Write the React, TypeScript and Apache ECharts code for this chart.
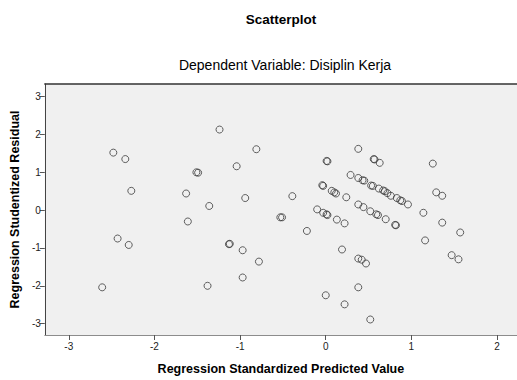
import React, { useEffect, useRef } from "react";
import * as echarts from "echarts";

const predictedValues: number[] = [
  -2.48, -2.34, -2.27, -2.43, -2.3, -2.61, -1.24, -0.81, -1.04, -1.51, -1.49, -1.63, -1.36, -0.94,
  -0.39, 0.01, 0.02, -0.04, -0.03, 0.07, 0.1, 0.12, 0.24, 0.29, -0.1, -0.03, 0.01, 0.02, -0.53,
  -0.51, -1.61, 0.13, 0.22, -0.22, -1.13, -1.12, -0.97, -0.78, 0.19, -0.97, -1.38, 0.0, 0.22,
  0.38, 0.56, 0.57, 0.63, 1.25, 0.38, 0.43, 0.45, 0.53, 0.55, 0.62, 0.67, 0.69, 0.72, 0.76, 0.83,
  0.87, 0.89, 0.96, 1.29, 1.36, 1.14, 0.38, 0.44, 0.52, 0.59, 0.61, 0.7, 0.81, 0.82, 1.36, 1.57,
  1.16, 1.47, 1.55, 0.38, 0.42, 0.47, 0.38, 0.52,
];
const studentizedResiduals: number[] = [
  1.52, 1.35, 0.51, -0.75, -0.92, -2.04, 2.13, 1.61, 1.16, 1.0, 0.99, 0.44, 0.11, 0.32,
  0.37, 1.3, 1.29, 0.66, 0.64, 0.51, 0.47, 0.44, 0.34, 0.93, 0.02, -0.07, -0.11, -0.13, -0.19,
  -0.19, -0.3, -0.25, -0.35, -0.55, -0.9, -0.89, -1.06, -1.36, -1.04, -1.78, -2.0, -2.25, -2.49,
  1.62, 1.35, 1.34, 1.25, 1.23, 0.85, 0.79, 0.78, 0.65, 0.64, 0.57, 0.52, 0.5, 0.45, 0.38, 0.32,
  0.26, 0.24, 0.15, 0.47, 0.38, -0.07, 0.15, 0.08, -0.03, -0.11, -0.13, -0.24, -0.39, -0.4, -0.33, -0.59,
  -0.8, -1.19, -1.3, -1.28, -1.31, -1.41, -2.04, -2.89,
];
const xTicks: number[] = [-3, -2, -1, 0, 1, 2];
const yTicks: number[] = [-3, -2, -1, 0, 1, 2, 3];

const chartTitle = "Scatterplot";
const chartSubtitle = "Dependent Variable: Disiplin Kerja";
const xName = "Regression Standardized Predicted Value";
const yName = "Regression Studentized Residual";

const FONT = "'Liberation Sans', Arial, sans-serif";

export default function App() {
  const ref = useRef<HTMLDivElement>(null);
  useEffect(() => {
    if (!ref.current) return;
    const chart = echarts.init(ref.current, null, { renderer: "svg" });
    const points = predictedValues.map((x, i) => [x, studentizedResiduals[i]]);
    chart.setOption({
      animation: false,
      backgroundColor: "#ffffff",
      textStyle: { fontFamily: FONT },
      graphic: [
        {
          type: "text",
          x: 281,
          y: 19,
          style: {
            text: chartTitle,
            font: `bold 13.5px ${FONT}`,
            fill: "#000",
            textAlign: "center",
            textVerticalAlign: "middle",
          },
        },
        {
          type: "text",
          x: 285,
          y: 65,
          style: {
            text: chartSubtitle,
            font: `14px ${FONT}`,
            fill: "#000",
            textAlign: "center",
            textVerticalAlign: "middle",
          },
        },
      ],
      grid: {
        left: 43,
        right: 0,
        top: 84,
        bottom: 42,
        show: true,
        backgroundColor: "#f0f0f0",
        borderWidth: 0,
      },
      xAxis: [
        {
          type: "value",
          min: -3.28,
          max: 2.233,
          position: "bottom",
          splitLine: { show: false },
          axisLine: { show: true, onZero: false, lineStyle: { color: "#8c8c8c", width: 1 } },
          axisTick: { show: true, customValues: xTicks, length: 5, lineStyle: { color: "#555" } },
          axisLabel: {
            customValues: xTicks,
            fontSize: 10,
            color: "#222",
            margin: 6,
            fontFamily: FONT,
          },
          name: xName,
          nameLocation: "middle",
          nameGap: 27,
          nameTextStyle: { fontWeight: "bold", fontSize: 12.5, color: "#000", fontFamily: FONT },
        },
        {
          type: "value",
          min: -3.28,
          max: 2.233,
          position: "top",
          splitLine: { show: false },
          axisLine: { show: true, onZero: false, lineStyle: { color: "#333", width: 1.5 } },
          axisTick: { show: false },
          axisLabel: { show: false },
        },
      ],
      yAxis: [
        {
          type: "value",
          min: -3.3,
          max: 3.334,
          position: "left",
          splitLine: { show: false },
          axisLine: { show: true, onZero: false, lineStyle: { color: "#444", width: 1 } },
          axisTick: { show: true, customValues: yTicks, length: 5, lineStyle: { color: "#555" } },
          axisLabel: {
            customValues: yTicks,
            fontSize: 10,
            color: "#222",
            margin: 4,
            fontFamily: FONT,
          },
          name: yName,
          nameLocation: "middle",
          nameGap: 21,
          nameTextStyle: { fontWeight: "bold", fontSize: 12.5, color: "#000", fontFamily: FONT },
        },
      ],
      series: [
        {
          type: "scatter",
          xAxisIndex: 0,
          yAxisIndex: 0,
          data: points,
          symbol: "circle",
          symbolSize: 7,
          itemStyle: { color: "rgba(0,0,0,0)", borderColor: "#3a3a3a", borderWidth: 1 },
          emphasis: { disabled: true },
        },
      ],
    });
    return () => chart.dispose();
  }, []);
  return (
    <div
      ref={ref}
      style={{ position: "fixed", left: 0, top: 0, width: 517, height: 380, background: "#fff" }}
    />
  );
}
